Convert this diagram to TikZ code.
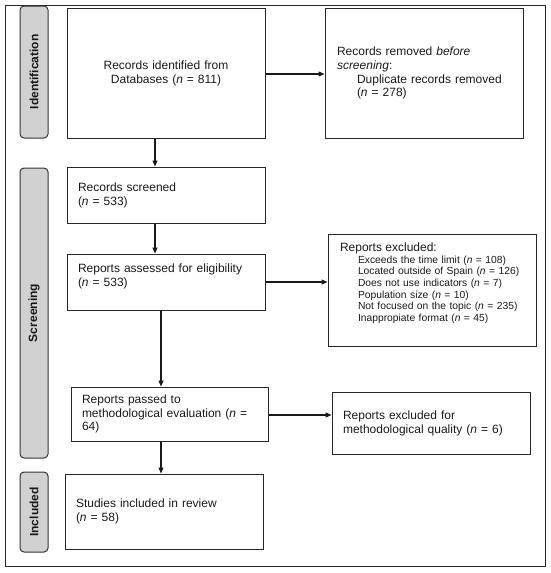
\documentclass[tikz,border=0pt]{standalone}
\usepackage{fontspec}
\setmainfont{Liberation Sans}
\usetikzlibrary{arrows.meta}
\newcommand{\mainsz}{\fontsize{12}{13.8}\selectfont}
\newcommand{\itemsz}{\fontsize{10.3}{11.7}\selectfont}
\newcommand{\ind}{\hspace*{18pt}}
\begin{document}
\begin{tikzpicture}[x=1pt,y=-1pt,
 box/.style={draw=black!85, line width=1pt, font=\mainsz, text=black!90, inner xsep=11pt, inner ysep=0pt, align=left},
 tab/.style={draw=black!80, line width=1pt, fill=black!18, rounded corners=4pt, rotate=90, minimum height=28pt, inner sep=0pt, font=\bfseries\fontsize{12}{14}\selectfont, text=black!90},
 arr/.style={line width=1.1pt, draw=black!90, -{Triangle[length=6pt,width=5pt]}},
 ln/.style={line width=1.1pt, draw=black!90}]
\useasboundingbox (0,0) rectangle (550,573);
\draw[line width=1pt, draw=black!85] (5,5) rectangle (545,566);

% phase tabs
\node[tab, minimum width=132pt] (tid) at (34,72) {Identification};
\node[tab, minimum width=290pt] (tscr) at (34,313) {Screening};
\node[tab, minimum width=80pt] (tinc) at (34,512) {Included};

% boxes
\node[box, align=center, text width=176pt, minimum width=198pt, minimum height=130pt] (id) at (166,73)
 {Records identified from\\Databases (\textit{n} = 811)};
\node[box, inner xsep=12pt, text width=174pt, minimum width=198pt, minimum height=130pt] (removed) at (424,73)
 {Records removed \textit{before}\\\textit{screening}:\\\hspace*{20pt}Duplicate records removed\\\hspace*{20pt}(\textit{n} = 278)};
\node[box, text width=176pt, minimum width=198pt, minimum height=56pt] (screened) at (166,195)
 {Records screened\\(\textit{n} = 533)};
\node[box, text width=176pt, minimum width=198pt, minimum height=56pt] (assessed) at (166,282)
 {Reports assessed for eligibility\\(\textit{n} = 533)\\\mbox{}};
\node[box, font=\itemsz, inner xsep=12pt, text width=184pt, minimum width=208pt, minimum height=112pt] (excluded) at (432,290)
 {{\fontsize{12}{11.7}\selectfont Reports excluded:}\\
  \ind Exceeds the time limit (\textit{n} = 108)\\
  \ind Located outside of Spain (\textit{n} = 126)\\
  \ind Does not use indicators (\textit{n} = 7)\\
  \ind Population size (\textit{n} = 10)\\
  \ind Not focused on the topic (\textit{n} = 235)\\
  \ind Inappropiate format (\textit{n} = 45)\\[4pt]\mbox{}};
\node[box, text width=175pt, minimum width=197pt, minimum height=54pt] (passed) at (169.5,414)
 {Reports passed to\\methodological evaluation (\textit{n} =\\64)};
\node[box, text width=176pt, minimum width=198pt, minimum height=62pt] (quality) at (431,423)
 {Reports excluded for\\methodological quality (\textit{n} = 6)};
\node[box, text width=176pt, minimum width=198pt, minimum height=75pt] (included) at (164,511.5)
 {Studies included in review\\(\textit{n} = 58)};

% connectors
\draw[arr] ([yshift=-1pt]id.east) -- ([yshift=-1pt]id.east -| removed.west);
\draw[arr] ([xshift=-11pt]id.south) -- ([xshift=-11pt]screened.north);
\draw[arr] ([xshift=-11pt]screened.south) -- ([xshift=-11pt]assessed.north);
\draw[arr] (assessed.east) -- (assessed.east -| excluded.west);
\draw[arr] ([xshift=-5pt]assessed.south) -- ([xshift=-5pt]assessed.south |- passed.north);
\draw[arr] ([yshift=-1pt]passed.east) -- ([yshift=-1pt]passed.east -| quality.west);
\draw[arr] ([xshift=-8.5pt]passed.south) -- ([xshift=-8.5pt]passed.south |- included.north);
\end{tikzpicture}
\end{document}
